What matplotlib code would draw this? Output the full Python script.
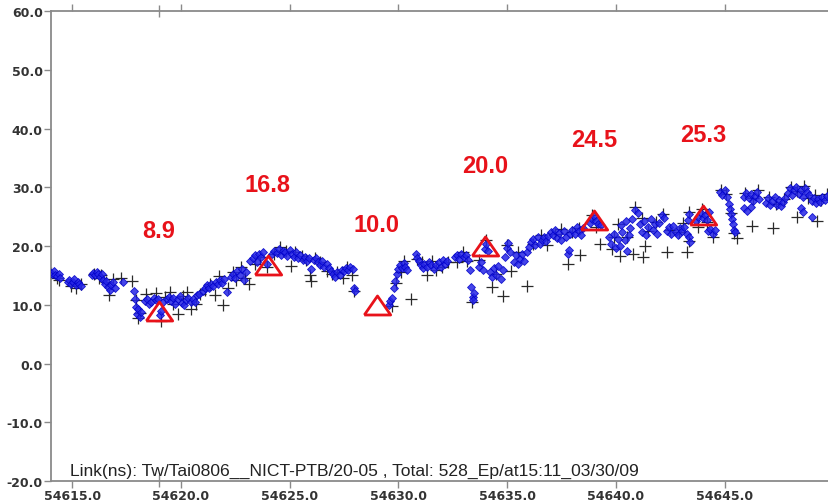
import matplotlib
matplotlib.use("Agg")
import matplotlib.pyplot as plt
from matplotlib.ticker import FormatStrFormatter, FixedLocator

# ---------------- data ----------------
blue_x = [
    54614.00, 54614.08, 54614.15, 54614.22, 54614.30, 54614.38, 54614.45,
    54614.80, 54614.88, 54614.95, 54615.03, 54615.10, 54615.18, 54615.25, 54615.33, 54615.42,
    54615.90, 54615.98, 54616.05, 54616.13, 54616.20, 54616.28, 54616.36,
    54616.42, 54616.50, 54616.58, 54616.65, 54616.72, 54616.80, 54616.88, 54616.95,
    54617.35, 54617.85,
    54617.90, 54617.95, 54618.00, 54618.05, 54618.10, 54618.15,
    54618.35, 54618.45, 54618.55, 54618.65, 54618.75, 54618.85, 54618.95, 54619.05, 54619.10, 54619.20,
    54619.35, 54619.45, 54619.55, 54619.65, 54619.75, 54619.85, 54619.95, 54620.05, 54620.15, 54620.25,
    54620.35, 54620.45, 54620.55, 54620.65, 54620.75, 54620.85,
    54621.00, 54621.10, 54621.20, 54621.30, 54621.40, 54621.50, 54621.60, 54621.70, 54621.80, 54621.90,
    54622.00, 54622.10,
    54622.30, 54622.40, 54622.50, 54622.60, 54622.70, 54622.80, 54622.90, 54623.00,
    54623.20, 54623.30, 54623.40, 54623.50, 54623.60, 54623.70, 54623.80, 54623.95,
    54624.20, 54624.30, 54624.40, 54624.50, 54624.60, 54624.70, 54624.80, 54624.90, 54625.00, 54625.10,
    54625.20, 54625.30, 54625.40, 54625.50, 54625.60, 54625.70, 54625.80,
    54625.90, 54626.00, 54626.10, 54626.20, 54626.30, 54626.40, 54626.50, 54626.60, 54626.70, 54626.80, 54626.90,
    54627.00, 54627.10, 54627.20, 54627.30, 54627.40, 54627.50, 54627.60, 54627.70, 54627.80, 54627.90,
    54627.95, 54628.00,
    54629.55, 54629.62, 54629.70, 54629.78,
    54629.85, 54629.92, 54630.00, 54630.08, 54630.16, 54630.24, 54630.32, 54630.40,
    54630.80, 54630.88, 54630.96, 54631.04, 54631.12, 54631.20, 54631.30, 54631.40, 54631.50,
    54631.65, 54631.75, 54631.85, 54631.95, 54632.05, 54632.15, 54632.25,
    54632.60, 54632.70, 54632.80, 54632.90, 54633.00, 54633.10, 54633.20, 54633.28,
    54633.35, 54633.42, 54633.48, 54633.45,
    54633.70, 54633.80, 54633.90, 54634.00, 54634.05, 54634.10,
    54634.20, 54634.30, 54634.40, 54634.50, 54634.60, 54634.70, 54634.80,
    54634.90, 54634.98, 54635.05, 54635.12,
    54635.30, 54635.40, 54635.50, 54635.60, 54635.70, 54635.80, 54635.90,
    54636.00, 54636.10, 54636.20, 54636.30, 54636.40, 54636.50, 54636.60, 54636.70, 54636.80, 54636.90,
    54637.00, 54637.10, 54637.20, 54637.30, 54637.40, 54637.50, 54637.60, 54637.70, 54637.80, 54637.85, 54637.90,
    54638.00, 54638.10, 54638.20, 54638.30, 54638.40, 54638.50,
    54638.80, 54638.90, 54639.00, 54639.10, 54639.20, 54639.30,
    54639.70, 54639.80, 54639.90, 54640.00, 54640.10, 54640.20, 54640.30, 54640.40, 54640.50, 54640.60,
    54640.25, 54640.45, 54640.65, 54640.75, 54640.90, 54641.00,
    54641.10, 54641.20, 54641.30, 54641.40, 54641.50, 54641.60, 54641.70, 54641.80, 54641.90, 54642.00,
    54642.10, 54642.20,
    54642.35, 54642.45, 54642.55, 54642.65, 54642.75, 54642.85, 54642.95, 54643.05, 54643.15, 54643.25,
    54643.30, 54643.38, 54643.35, 54643.40,
    54643.70, 54643.80, 54643.90, 54644.00, 54644.10, 54644.20, 54644.30,
    54644.25, 54644.35, 54644.45, 54644.55,
    54644.80, 54644.90, 54645.00, 54645.10,
    54645.20, 54645.25, 54645.30, 54645.35, 54645.40, 54645.45, 54645.50,
    54645.90, 54646.00, 54646.10, 54646.20, 54646.30, 54646.40, 54646.50, 54646.60,
    54645.90, 54646.05, 54646.20,
    54646.90, 54647.00, 54647.10, 54647.20, 54647.30, 54647.40, 54647.50, 54647.60, 54647.70, 54647.80,
    54647.90, 54648.00, 54648.10, 54648.20, 54648.30, 54648.40, 54648.50, 54648.60, 54648.70, 54648.80, 54648.90,
    54648.50, 54648.60, 54649.00,
    54649.00, 54649.10, 54649.20, 54649.30, 54649.40, 54649.50, 54649.60, 54649.70,
]
blue_y = [
    15.6, 15.3, 15.8, 15.1, 14.9, 15.2, 14.6,
    13.9, 14.2, 13.5, 13.8, 14.3, 13.4, 13.9, 13.6, 13.2,
    15.0, 15.4, 15.1, 15.6, 15.2, 14.8, 15.3,
    14.2, 13.6, 14.0, 13.1, 12.5, 13.4, 13.9, 12.8,
    13.8, 12.3,
    11.0, 9.6, 8.5, 9.2, 7.9, 8.7,
    10.6, 10.9, 10.2, 10.5, 11.2, 10.8, 11.0, 8.2, 9.0, 10.4,
    10.9, 11.3, 10.6, 11.1, 10.2, 10.9, 11.5, 10.3, 9.9, 10.8,
    11.2, 10.5, 11.0, 10.4, 11.6, 11.9,
    12.4, 12.9, 13.3, 12.8, 13.6, 13.2, 13.9, 13.5, 14.2, 13.7,
    14.4, 12.2,
    14.8, 15.3, 14.6, 15.8, 15.1, 16.1, 14.2, 15.5,
    17.5, 17.9, 18.4, 17.3, 18.7, 18.1, 19.0, 16.9,
    18.6, 19.2, 18.8, 19.5, 18.4, 19.1, 18.9, 18.3, 19.3, 18.7,
    18.2, 18.9, 17.9, 18.5, 17.6, 18.2, 17.4,
    18.0, 16.1, 17.6, 17.9, 17.2, 16.8, 17.4, 16.5, 16.9, 16.2, 15.8,
    15.2, 14.8, 15.6, 15.1, 16.0, 15.7, 16.3, 15.9, 16.4, 16.1,
    12.9, 12.3,
    10.0, 10.6, 11.2, 12.8,
    14.0, 15.2, 16.1, 16.8, 16.3, 17.1, 16.5, 15.9,
    18.6, 18.0, 17.4, 16.8, 16.2, 16.9, 16.4, 17.2, 16.7,
    16.1, 16.8, 17.2, 16.5, 17.6, 17.0, 17.4,
    18.1, 18.5, 17.8, 18.7, 18.2, 18.4, 17.6, 16.0,
    13.0, 11.4, 12.0, 10.8,
    16.5, 17.2, 16.0, 19.5, 20.3, 19.1,
    15.6, 14.8, 16.2, 15.1, 16.6, 14.4, 16.0,
    18.2, 19.6, 20.5, 18.9,
    17.2, 18.4, 16.9, 17.8, 18.6, 17.4, 18.9,
    19.8, 20.6, 21.2, 20.1, 21.6, 20.4, 21.0, 21.5, 20.8, 21.7,
    22.4, 21.8, 22.7, 21.3, 22.2, 21.0, 22.5, 21.6, 18.6, 19.3, 22.1,
    22.8, 22.0, 23.2, 22.5, 21.9, 23.0,
    24.0, 24.6, 25.1, 24.3, 23.8, 23.5,
    21.5, 20.4, 22.0, 19.6, 21.2, 20.0, 22.4, 21.0, 19.2, 21.8,
    23.5, 24.2, 23.0, 24.6, 26.1, 25.6,
    23.8, 22.4, 24.2, 21.9, 23.3, 24.6, 22.8, 23.7, 22.1, 24.0,
    25.2, 24.8,
    22.6, 23.2, 22.0, 23.4, 22.3, 21.8, 23.0, 22.5, 23.3, 22.1,
    24.5, 25.4, 21.5, 20.6,
    24.3, 25.0, 25.6, 24.8, 25.3, 24.5, 25.8,
    22.5, 22.9, 22.1, 22.7,
    29.2, 28.6, 29.5, 28.3,
    27.2, 26.3, 25.4, 24.6, 23.7, 22.8, 22.4,
    28.4, 29.0, 28.1, 28.8, 27.6, 28.5, 29.2, 28.0,
    26.4, 26.0, 26.7,
    27.4, 28.1, 26.9, 27.7, 28.3, 27.0, 27.8, 26.8, 27.5, 28.2,
    29.1, 29.8, 28.6, 29.5, 30.1, 28.9, 29.6, 28.4, 29.9, 29.2, 28.7,
    26.5, 25.8, 25.0,
    27.6, 28.2, 27.3, 28.0, 27.5, 28.4, 27.8, 28.5,
]

plus_x = [
    54614.05, 54614.30, 54614.40,
    54614.95, 54615.20, 54615.40,
    54616.00, 54616.25, 54616.35,
    54616.55, 54616.70, 54616.90,
    54617.25, 54617.75, 54617.95, 54618.05, 54618.12, 54618.40, 54618.85, 54619.10, 54619.25,
    54619.50, 54619.65, 54619.85, 54620.10, 54620.30, 54620.45, 54620.70, 54620.90,
    54621.10, 54621.35, 54621.55, 54621.75, 54621.95, 54622.15, 54622.40, 54622.55, 54622.75, 54622.95,
    54623.15, 54623.40, 54623.65, 54623.95, 54624.30, 54624.55, 54624.85, 54625.05, 54625.25, 54625.55,
    54625.75, 54625.95, 54626.00,
    54626.15, 54626.40, 54626.70, 54626.95, 54627.20, 54627.45, 54627.65, 54627.85, 54627.98,
    54629.70, 54629.90, 54630.10, 54630.25, 54630.60, 54630.85, 54631.10, 54631.32, 54631.55, 54631.75,
    54632.00, 54632.30, 54632.70, 54632.95, 54633.15, 54633.40, 54633.70, 54634.05, 54634.31, 54634.82,
    54634.50, 54635.00, 54635.20, 54635.50, 54635.92, 54636.20, 54636.55, 54636.85,
    54637.20, 54637.50, 54637.80, 54638.00, 54638.30, 54638.36, 54638.90, 54639.10, 54639.28, 54639.83,
    54639.90, 54640.10, 54640.20, 54640.50, 54640.80, 54640.90, 54641.20, 54641.25, 54641.35, 54641.50,
    54641.85, 54642.15, 54642.35, 54642.50, 54642.90, 54643.10, 54643.28, 54643.35, 54643.38, 54643.78,
    54643.95, 54644.20, 54644.45, 54644.85, 54645.05, 54645.30, 54645.45, 54645.55, 54645.95, 54646.26,
    54646.30, 54646.55, 54647.05, 54647.23, 54647.35, 54647.75, 54648.05, 54648.33, 54648.35, 54648.65,
    54648.85, 54649.15, 54649.25, 54649.45, 54649.70,
]
plus_y = [
    15.4, 14.6, 14.2,
    13.2, 12.9, 13.5,
    15.2, 14.5, 15.0,
    13.9, 11.6, 14.3,
    14.6, 14.1, 10.8, 7.7, 8.6, 11.8, 12.0, 7.2, 11.3,
    12.2, 10.2, 8.4, 11.5, 12.1, 9.3, 10.2, 11.8,
    12.5, 13.6, 11.7, 14.9, 10.0, 12.8, 15.5, 14.2, 16.5, 14.5,
    13.5, 17.0, 18.2, 16.4, 18.6, 19.9, 19.2, 16.6, 19.0, 18.3,
    17.7, 15.0, 14.1,
    18.0, 17.3, 15.8, 15.3, 15.5, 14.6, 16.5, 15.0, 12.4,
    9.8, 13.7, 15.6, 17.4, 11.0, 17.8, 17.2, 15.0, 17.4, 15.9,
    16.5, 17.2, 17.2, 19.0, 17.5, 10.5, 17.6, 21.0, 13.1, 11.5,
    15.2, 20.2, 15.8, 19.0, 13.2, 20.4, 21.8, 20.2,
    22.0, 22.9, 17.0, 22.3, 23.0, 18.5, 25.2, 23.2, 20.4, 19.5,
    21.5, 23.8, 18.3, 21.6, 18.7, 26.6, 24.8, 18.2, 20.0, 22.6,
    24.1, 25.5, 19.0, 22.8, 22.3, 23.9, 19.0, 25.8, 20.9, 23.3,
    26.3, 24.1, 21.5, 29.6, 28.9, 25.7, 22.2, 21.3, 29.1, 23.4,
    28.2, 29.5, 28.4, 23.1, 27.2, 28.0, 30.0, 25.0, 29.4, 30.2,
    28.2, 28.6, 24.3, 27.8, 28.8,
]

epoch_x = [54619.0, 54624.0, 54629.0, 54634.0, 54639.0, 54644.0]
epoch_y = [8.9, 16.8, 10.0, 20.0, 24.5, 25.3]
epoch_labels = ["8.9", "16.8", "10.0", "20.0", "24.5", "25.3"]

x_ticks = [54615.0, 54620.0, 54625.0, 54630.0, 54635.0, 54640.0, 54645.0]
y_ticks = [-20.0, -10.0, 0.0, 10.0, 20.0, 30.0, 40.0, 50.0, 60.0]
info_text = "Link(ns): Tw/Tai0806__NICT-PTB/20-05 , Total: 528_Ep/at15:11_03/30/09"

# ---------------- figure ----------------
fig = plt.figure(figsize=(8.29, 5.02), dpi=100)
ax = fig.add_axes([51 / 829, 1 - 482 / 502, 1 - 51 / 829, (482 - 12) / 502])

ax.plot(plus_x, plus_y, linestyle="none", marker="+", markersize=9,
        markeredgewidth=0.9, color="#2a2a2a", zorder=2)
ax.plot(blue_x, blue_y, linestyle="none", marker="D", markersize=3.6,
        markerfacecolor="#2626e6", markeredgecolor="#0000c8",
        markeredgewidth=0.6, alpha=0.85, zorder=3)

tri = [(-1, -0.72), (1, -0.72), (0, 0.72), (-1, -0.72)]
ax.plot(epoch_x, epoch_y, linestyle="none", marker=tri, markersize=19,
        markerfacecolor="none", markeredgecolor="#e8121a", markeredgewidth=2.0, zorder=4)
for xv, yv, lab in zip(epoch_x, epoch_y, epoch_labels):
    ax.text(xv, yv + 13.7, lab, color="#e8121a", fontsize=17, fontweight="bold",
            family=["Liberation Sans", "DejaVu Sans"], ha="center", va="center", zorder=5)

ax.set_xlim(54614.03, 54649.8)
ax.set_ylim(-20, 60)

ax.xaxis.set_major_locator(FixedLocator(x_ticks))
ax.yaxis.set_major_locator(FixedLocator(y_ticks))
ax.xaxis.set_minor_locator(FixedLocator([54619.0]))
ax.xaxis.set_major_formatter(FormatStrFormatter("%.1f"))
ax.yaxis.set_major_formatter(FormatStrFormatter("%.1f"))

spine_c = "#8a8a8a"
for side in ["left", "top", "bottom"]:
    ax.spines[side].set_color(spine_c)
    ax.spines[side].set_linewidth(1.3)
ax.spines["right"].set_visible(False)

ax.tick_params(axis="x", which="both", top=True, bottom=True, direction="out",
               length=5, width=1, color=spine_c, labelsize=9, labelcolor="#333333", pad=1)
ax.tick_params(axis="x", which="minor", direction="inout", length=8)
ax.tick_params(axis="y", which="both", left=True, right=False, direction="out",
               length=5, width=1, color=spine_c, labelsize=9, labelcolor="#333333", pad=1)
for lab in ax.get_xticklabels() + ax.get_yticklabels():
    lab.set_fontweight("bold")

ax.text(0.024, 0.013, info_text, transform=ax.transAxes, fontsize=12.6,
        family=["Liberation Sans", "DejaVu Sans"], color="#222222",
        ha="left", va="baseline", zorder=6)

fig.savefig("out.png", dpi=100)
